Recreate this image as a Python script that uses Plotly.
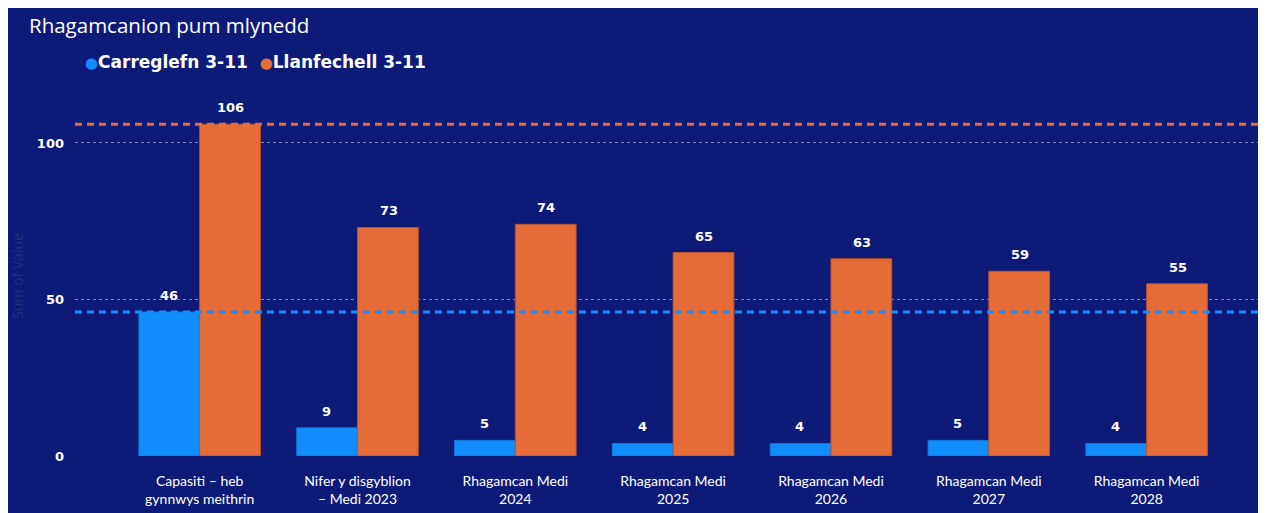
import plotly.graph_objects as go

categories = [
    "Capasiti – heb<br>gynnwys meithrin",
    "Nifer y disgyblion<br>– Medi 2023",
    "Rhagamcan Medi<br>2024",
    "Rhagamcan Medi<br>2025",
    "Rhagamcan Medi<br>2026",
    "Rhagamcan Medi<br>2027",
    "Rhagamcan Medi<br>2028",
]
series_names = ["Carreglefn 3-11", "Llanfechell 3-11"]
carreglefn = [46, 9, 5, 4, 4, 5, 4]
llanfechell = [106, 73, 74, 65, 63, 59, 55]
ref_lines = [46, 106]
y_ticks = [0, 50, 100]

BG = "#0E1A78"
BLUE = "#118DFF"
ORANGE = "#E66C37"

fig = go.Figure()
for name, vals, col, edge, shift in [
    (series_names[0], carreglefn, BLUE, "#0C78DA", -31),
    (series_names[1], llanfechell, ORANGE, "#B9532A", 31),
]:
    fig.add_trace(go.Bar(
        x=categories, y=vals, name=name,
        marker=dict(color=col, line=dict(color=edge, width=1)),
        showlegend=False,
    ))
    for c, v in zip(categories, vals):
        fig.add_annotation(x=c, y=v, xshift=shift, yshift=7, yanchor="bottom",
                           text=str(v), showarrow=False,
                           font=dict(family="DejaVu Sans", size=13, color="white", weight="bold"))

for val, col in zip(ref_lines, [BLUE, ORANGE]):
    fig.add_shape(type="line", xref="paper", x0=0, x1=1, yref="y", y0=val, y1=val,
                  line=dict(color=col, width=3, dash="7px,5px"), layer="above")

# title
fig.add_annotation(
    text="Rhagamcanion pum mlynedd", showarrow=False,
    xref="paper", yref="paper", x=-48/1191, y=(360 + 88 - 17) / 360,
    xanchor="left", yanchor="middle",
    font=dict(family="Open Sans", size=20.5, color="white"))

# legend
fig.add_annotation(
    text=(f"<span style='color:{BLUE};font-size:15px'>●</span>{series_names[0]}"
          f"  <span style='color:{ORANGE};font-size:15px'>●</span>{series_names[1]}"),
    showarrow=False, xref="paper", yref="paper",
    x=(83 - 75) / 1191, y=(360 + 88 - 54) / 360,
    xanchor="left", yanchor="middle",
    font=dict(family="DejaVu Sans", size=17, color="white", weight="bold"))

fig.update_layout(
    width=1257, height=505,
    margin=dict(l=67, r=0, t=88, b=57),
    paper_bgcolor=BG, plot_bgcolor=BG,
    barmode="group", bargap=0.23, bargroupgap=0,
    showlegend=False,
    xaxis=dict(range=[-0.79, 6.75], showgrid=False, zeroline=False, showline=False,
               tickfont=dict(family="Lato", size=14, color="white"),
               ticklabelstandoff=15),
    yaxis=dict(range=[0, 115], tickvals=y_ticks, showgrid=True,
               gridcolor="#8088B8", griddash="dot", gridwidth=1,
               zeroline=False, showline=False,
               tickfont=dict(family="DejaVu Sans", size=13, color="white", weight="bold"),
               ticklabelstandoff=10,
               title=dict(text="Sum of Value", font=dict(family="Open Sans", size=14, color="#27307F"),
                          standoff=20)),
)

fig.write_html("out.html")
